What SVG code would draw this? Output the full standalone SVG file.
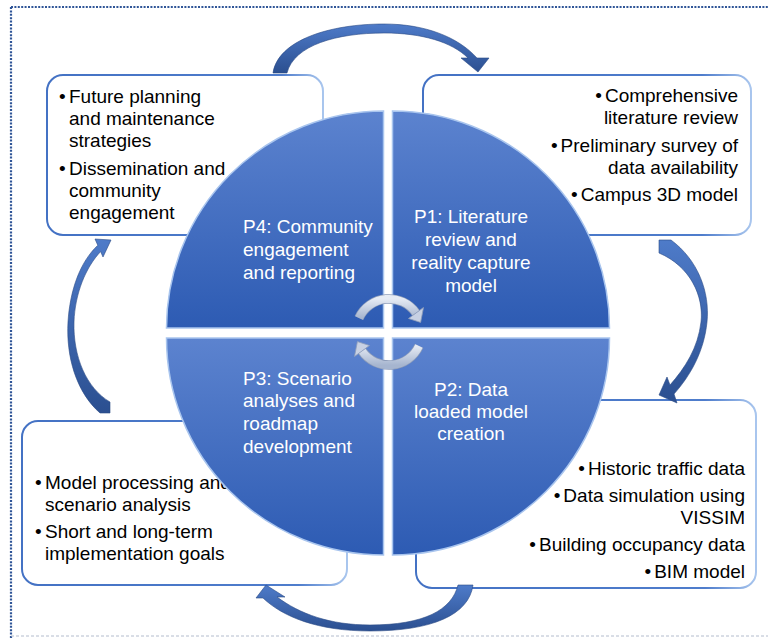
<svg xmlns="http://www.w3.org/2000/svg" width="768" height="638" viewBox="0 0 768 638">
<defs>
<linearGradient id="qfill" x1="0" y1="0" x2="0" y2="1">
<stop offset="0" stop-color="#5c83cf"/>
<stop offset="1" stop-color="#2d5bb3"/>
</linearGradient>
<linearGradient id="afill" x1="0" y1="0" x2="0" y2="1">
<stop offset="0" stop-color="#4e7bc9"/>
<stop offset="1" stop-color="#2b4f90"/>
</linearGradient>
<linearGradient id="cfill" x1="0" y1="0" x2="0" y2="1">
<stop offset="0" stop-color="#e6ebf4"/>
<stop offset="1" stop-color="#a6b5cf"/>
</linearGradient>
<linearGradient id="bstroke" x1="0" y1="0" x2="1" y2="0">
<stop offset="0" stop-color="#4472c4"/>
<stop offset="0.85" stop-color="#4f7dcc"/>
<stop offset="1" stop-color="#a9c6ee"/>
</linearGradient>
<style>
.box{fill:#ffffff;stroke:url(#bstroke);stroke-width:2}
.bt{font-family:"Liberation Sans",Arial,sans-serif;font-size:19px;fill:#000000}
.ct{font-family:"Liberation Sans",Arial,sans-serif;font-size:19px;fill:#ffffff}
.q{fill:url(#qfill);stroke:#a9c5ee;stroke-width:1.5}
.arr{fill:url(#afill);stroke:#2a4a85;stroke-width:0.6}
.carc{fill:none;stroke:url(#cfill);stroke-width:8}
.carcb{fill:none;stroke:#8d9cb9;stroke-width:9.5}
.chead{fill:#c8d1e3;stroke:#8d9cb9;stroke-width:0.8}
.end{text-anchor:end}
.mid{text-anchor:middle}
</style>
</defs>
<rect x="0" y="0" width="768" height="638" fill="#ffffff"/>
<g id="frame">
<line x1="11" y1="7" x2="768" y2="7" stroke="#2f5597" stroke-width="2.2" stroke-dasharray="2 1.4"/>
<line x1="11" y1="7" x2="11" y2="638" stroke="#2f5597" stroke-width="2.2" stroke-dasharray="2 1.4"/>
<line x1="11" y1="636" x2="768" y2="636" stroke="#b3bccd" stroke-width="1" stroke-dasharray="3 2"/>
</g>
<g id="box-p4">
<rect class="box" x="47" y="75" width="276" height="160" rx="16"/>
<text class="bt"><tspan x="59" y="103">•</tspan><tspan x="69" y="103">Future planning</tspan><tspan x="69" y="125">and maintenance</tspan><tspan x="69" y="147">strategies</tspan><tspan x="59" y="175">•</tspan><tspan x="69" y="175">Dissemination and</tspan><tspan x="69" y="197">community</tspan><tspan x="69" y="219">engagement</tspan></text>
</g>
<g id="box-p1">
<rect class="box" x="423" y="75" width="328" height="160" rx="16"/>
<text class="bt end" x="738" y="102">•<tspan dx="3">Comprehensive</tspan></text>
<text class="bt end" x="738" y="124">literature review</text>
<text class="bt end" x="738" y="152">•<tspan dx="3">Preliminary survey of</tspan></text>
<text class="bt end" x="738" y="174">data availability</text>
<text class="bt end" x="738" y="201">•<tspan dx="3">Campus 3D model</tspan></text>
</g>
<g id="box-p3">
<rect class="box" x="22" y="421" width="325" height="164" rx="16"/>
<text class="bt"><tspan x="35" y="489">•</tspan><tspan x="45" y="489">Model processing and</tspan><tspan x="45" y="511">scenario analysis</tspan><tspan x="35" y="538">•</tspan><tspan x="45" y="538">Short and long-term</tspan><tspan x="45" y="560">implementation goals</tspan></text>
</g>
<g id="box-p2">
<rect class="box" x="416" y="400" width="340" height="188" rx="16"/>
<text class="bt end" x="745" y="475">•<tspan dx="3">Historic traffic data</tspan></text>
<text class="bt end" x="745" y="502">•<tspan dx="3">Data simulation using</tspan></text>
<text class="bt end" x="745" y="524">VISSIM</text>
<text class="bt end" x="745" y="551">•<tspan dx="3">Building occupancy data</tspan></text>
<text class="bt end" x="745" y="578">•<tspan dx="3">BIM model</tspan></text>
</g>
<g id="connectors">
<path class="arr" d="M273,73 C278,40 330,24 384,24 C425,24 458,37 477,58 L489,58 L478,72 L461,58 L468,58 C452,42 422,33 384,33 C337,33 294,45 287,73 Z"/>
<path class="arr" d="M659,240 L671,240 C698,260 710,292 707,322 C704,352 690,376 674,394 L677,403 L659,395 L667,377 L670,385 C685,368 698,348 701,322 C704,296 690,266 659,253 Z"/>
<path class="arr" d="M473,585 C469,615 432,631 370,631 C318,631 283,617 263,598 L256,598 L266,585 L285,597 L277,597 C300,614 330,625 370,625 C424,625 452,610 458,585 Z"/>
<path class="arr" d="M100,413 C76,392 66,356 68,322 C70,290 80,262 97.8,245.3 L95,239 L111,240 L103,257 L100.6,251.6 C86,267 75,293 74,322 C73,356 86,388 110,402 L110,413 Z"/>
</g>
<g id="p4">
<path class="q" d="M383.5,328 L166.5,328 A217,217 0 0 1 383.5,111 Z"/>
<text class="ct"><tspan x="243" y="233">P4: Community</tspan><tspan x="243" y="256">engagement</tspan><tspan x="243" y="279">and reporting</tspan></text>
</g>
<g id="p1">
<path class="q" d="M392.5,328 L392.5,111 A217,217 0 0 1 609.5,328 Z"/>
<text class="ct mid"><tspan x="471" y="223">P1: Literature</tspan><tspan x="471" y="246">review and</tspan><tspan x="471" y="269">reality capture</tspan><tspan x="471" y="292">model</tspan></text>
</g>
<g id="p2">
<path class="q" d="M392.5,338 L609.5,338 A217,217 0 0 1 392.5,555 Z"/>
<text class="ct mid"><tspan x="471" y="396">P2: Data</tspan><tspan x="471" y="418">loaded model</tspan><tspan x="471" y="440">creation</tspan></text>
</g>
<g id="p3">
<path class="q" d="M383.5,338 L383.5,555 A217,217 0 0 1 166.5,338 Z"/>
<text class="ct"><tspan x="243" y="385">P3: Scenario</tspan><tspan x="243" y="407">analyses and</tspan><tspan x="243" y="430">roadmap</tspan><tspan x="243" y="453">development</tspan></text>
</g>
<g id="cycle">
<path class="carcb" d="M359,318 A33,33 0 0 1 416,313"/>
<path class="carc" d="M359,318 A33,33 0 0 1 416,313"/>
<polygon class="chead" points="423.5,307.5 420.6,322.4 408.5,318.5"/>
<path class="carcb" d="M419,346 A33,33 0 0 1 362,351"/>
<path class="carc" d="M419,346 A33,33 0 0 1 362,351"/>
<polygon class="chead" points="354.5,356.5 357.4,341.6 369.5,345.5"/>
</g>
</svg>
